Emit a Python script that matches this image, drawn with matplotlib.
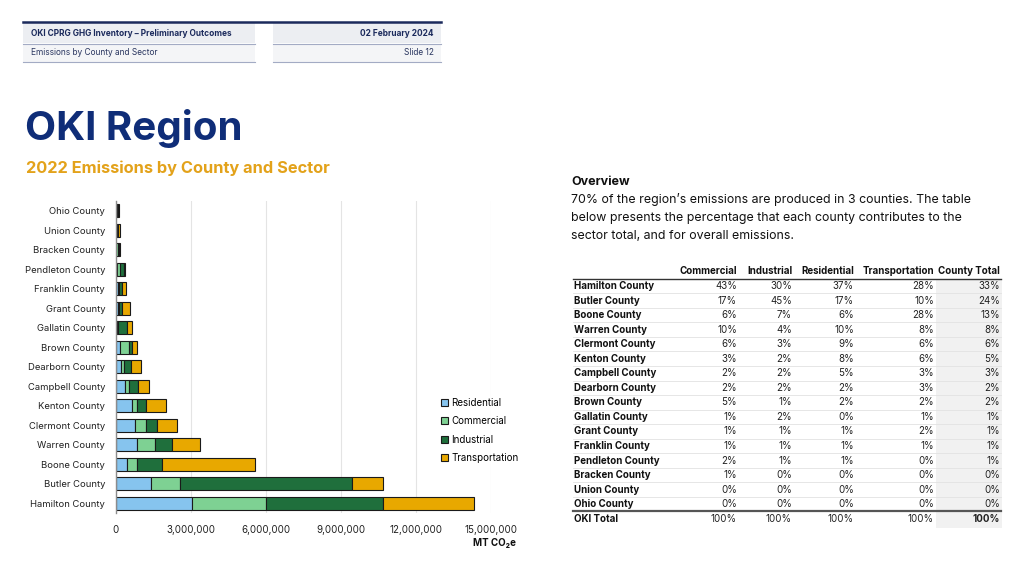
import numpy as np
import matplotlib
matplotlib.use("Agg")
import matplotlib.pyplot as plt
from matplotlib.ticker import FuncFormatter
from matplotlib.patches import Rectangle

plt.rcParams['font.family'] = ['Inter', 'DejaVu Sans']

# chart data (MT CO2e), bottom to top
counties = ["Hamilton County", "Butler County", "Boone County", "Warren County",
            "Clermont County", "Kenton County", "Campbell County", "Dearborn County",
            "Brown County", "Gallatin County", "Grant County", "Franklin County",
            "Pendleton County", "Bracken County", "Union County", "Ohio County"]
residential = np.array([3.05, 1.40, 0.47, 0.85, 0.76, 0.65, 0.39, 0.20,
                        0.17, 0.04, 0.08, 0.10, 0.05, 0.03, 0.03, 0.02]) * 1e6
commercial = np.array([2.97, 1.17, 0.38, 0.71, 0.45, 0.19, 0.14, 0.12,
                       0.38, 0.06, 0.05, 0.05, 0.13, 0.05, 0.03, 0.02]) * 1e6
industrial = np.array([4.67, 6.86, 1.02, 0.70, 0.44, 0.36, 0.36, 0.29,
                       0.10, 0.34, 0.12, 0.10, 0.15, 0.04, 0.05, 0.04]) * 1e6
transportation = np.array([3.64, 1.27, 3.70, 1.12, 0.82, 0.82, 0.43, 0.41,
                           0.20, 0.20, 0.32, 0.16, 0.05, 0.04, 0.05, 0.04]) * 1e6
x_ticks = [0, 3e6, 6e6, 9e6, 12e6, 15e6]

# table data (top to bottom)
table_counties = ["Hamilton County", "Butler County", "Boone County", "Warren County",
                  "Clermont County", "Kenton County", "Campbell County", "Dearborn County",
                  "Brown County", "Gallatin County", "Grant County", "Franklin County",
                  "Pendleton County", "Bracken County", "Union County", "Ohio County"]
table_columns = ["Commercial", "Industrial", "Residential", "Transportation", "County Total"]
pct_commercial = [43, 17, 6, 10, 6, 3, 2, 2, 5, 1, 1, 1, 2, 1, 0, 0]
pct_industrial = [30, 45, 7, 4, 3, 2, 2, 2, 1, 2, 1, 1, 1, 0, 0, 0]
pct_residential = [37, 17, 6, 10, 9, 8, 5, 2, 2, 0, 1, 1, 1, 0, 0, 0]
pct_transportation = [28, 10, 28, 8, 6, 6, 3, 3, 2, 1, 2, 1, 0, 0, 0, 0]
pct_total = [33, 24, 13, 8, 6, 5, 3, 2, 2, 1, 1, 1, 1, 0, 0, 0]
oki_total = [100, 100, 100, 100, 100]

overview_lines = ["70% of the region\u2019s emissions are produced in 3 counties. The table",
                  "below presents the percentage that each county contributes to the",
                  "sector total, and for overall emissions."]

navy = "#0f2d78"
gold = "#e3a21a"
c_res, c_com, c_ind, c_tra = "#86c4ee", "#7ed193", "#1f6f3c", "#e8a800"

fig = plt.figure(figsize=(10.24, 5.76), dpi=100)
bg = fig.add_axes([0, 0, 1, 1])
bg.set_xlim(0, 1024)
bg.set_ylim(576, 0)
bg.axis('off')

# header block
bg.add_patch(Rectangle((23, 23), 232, 20, color="#eceef2", lw=0))
bg.add_patch(Rectangle((273, 23), 168, 20, color="#eceef2", lw=0))
bg.add_patch(Rectangle((23, 44), 232, 18, color="#f4f5f7", lw=0))
bg.add_patch(Rectangle((273, 44), 168, 18, color="#f4f5f7", lw=0))
bg.plot([23, 441], [22, 22], color="#1b2a5c", lw=1.8)
bg.plot([23, 255], [43.5, 43.5], color="#a3abc4", lw=0.8)
bg.plot([273, 441], [43.5, 43.5], color="#a3abc4", lw=0.8)
bg.plot([23, 255], [62, 62], color="#a3abc4", lw=0.8)
bg.plot([273, 441], [62, 62], color="#a3abc4", lw=0.8)
bg.text(31, 33, "OKI CPRG GHG Inventory \u2013 Preliminary Outcomes", fontsize=6, weight='bold',
        color="#1b2a5c", va='center')
bg.text(31, 52.5, "Emissions by County and Sector", fontsize=6, color="#2a3660", va='center')
bg.text(434, 33, "02 February 2024", fontsize=6, weight='bold', color="#1b2a5c",
        va='center', ha='right')
bg.text(434, 52.5, "Slide 12", fontsize=6, color="#2a3660", va='center', ha='right')

# titles
bg.text(25, 128, "OKI Region", fontsize=29, weight='bold', color=navy, va='center')
bg.text(26, 168, "2022 Emissions by County and Sector", fontsize=11.8, weight='bold',
        color=gold, va='center')

# overview
bg.text(571, 182, "Overview", fontsize=9, weight='bold', color="#111111", va='center')
for i, line in enumerate(overview_lines):
    bg.text(571, 200 + i * 18, line, fontsize=8.9, color="#111111", va='center')

# table
col_right = [737, 792, 854, 934, 1000]
row_y0, row_dy = 286, 14.55
bg.add_patch(Rectangle((936, 279), 66, 249, color="#f1f1f1", lw=0))
for j, col in enumerate(table_columns):
    bg.text(col_right[j], 271.5, col, fontsize=7, weight='bold', ha='right', va='center',
            color="#111111")
bg.plot([573, 1001], [278.5, 278.5], color="#333333", lw=1.0)
cols = [pct_commercial, pct_industrial, pct_residential, pct_transportation, pct_total]
for i, name in enumerate(table_counties):
    y = row_y0 + i * row_dy
    bg.text(574, y, name, fontsize=7, weight='bold', va='center', color="#111111")
    for j, vals in enumerate(cols):
        bg.text(col_right[j], y, f"{vals[i]}%", fontsize=7, ha='right', va='center',
                color="#222222")
    if i < len(table_counties) - 1:
        bg.plot([573, 1001], [y + row_dy / 2, y + row_dy / 2], color="#e2e2e2", lw=0.6)
y_tot = row_y0 + len(table_counties) * row_dy
bg.plot([573, 1001], [y_tot - 7.5, y_tot - 7.5], color="#555555", lw=1.6)
bg.text(574, y_tot, "OKI Total", fontsize=7, weight='bold', va='center', color="#111111")
for j, v in enumerate(oki_total):
    bg.text(col_right[j], y_tot, f"{v}%", fontsize=7, ha='right', va='center', color="#222222",
            weight='bold' if j == len(oki_total) - 1 else 'normal')

# chart
ax = fig.add_axes([115.5 / 1024, 1 - 513 / 576, (491 - 115.5) / 1024, (513 - 201) / 576])
y = np.arange(len(counties))
left = np.zeros(len(counties))
handles = []
for vals, color, label in [(residential, c_res, "Residential"), (commercial, c_com, "Commercial"),
                           (industrial, c_ind, "Industrial"), (transportation, c_tra, "Transportation")]:
    b = ax.barh(y, vals, left=left, height=0.66, color=color, edgecolor="#1a1a1a",
                linewidth=0.8, label=label)
    handles.append(b)
    left = left + vals

ax.set_xlim(0, 15e6)
ax.set_ylim(-0.5, len(counties) - 0.5)
ax.set_yticks(y)
ax.set_yticklabels(counties)
ax.set_xticks(x_ticks)
ax.xaxis.set_major_formatter(FuncFormatter(lambda v, p: f"{int(v):,}"))
ax.tick_params(length=0, labelsize=7, colors="#222222")
ax.tick_params(axis='y', pad=7.5, labelsize=6.8)
ax.tick_params(axis='x', pad=8.5)
ax.grid(axis='x', color="#e4e4e4", lw=0.8)
ax.set_axisbelow(True)
for s in ['top', 'right', 'bottom']:
    ax.spines[s].set_visible(False)
ax.spines['left'].set_color("#8c8c8c")
ax.spines['left'].set_linewidth(1.0)

ax.legend(handles=handles, loc='upper left', bbox_to_anchor=(441 / 1024, 1 - 398 / 576),
          bbox_transform=fig.transFigure, frameon=False, fontsize=7, handlelength=0.75,
          handleheight=0.75, handletextpad=0.3, labelspacing=0.85, borderpad=0, borderaxespad=0)

bg.text(516, 543, "MT CO\u2082e", fontsize=7, weight='bold', ha='right', va='center',
        color="#111111")

fig.savefig("out.png", dpi=100)
